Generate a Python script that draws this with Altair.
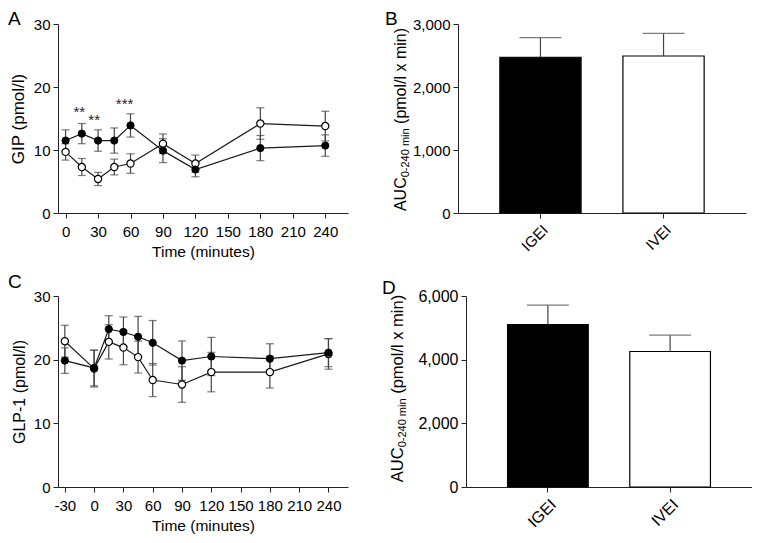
import altair as alt
import pandas as pd

FONT = "Liberation Sans"
LINE = "#1a1a1a"
ERR = "#444444"

# ---------------- Panel A: GIP ----------------
a_time = [0, 15, 30, 45, 60, 90, 120, 180, 240]
a_igei = [11.5, 12.6, 11.5, 11.5, 13.9, 9.9, 6.9, 10.3, 10.7]
a_igei_sem = [1.7, 1.6, 1.7, 2.0, 1.85, 1.9, 1.15, 2.0, 1.7]
a_ivei = [9.7, 7.3, 5.4, 7.3, 7.85, 11.0, 7.85, 14.2, 13.8]
a_ivei_sem = [1.3, 1.35, 1.05, 1.25, 1.55, 1.55, 1.35, 2.5, 2.35]
a_star_time = [12.7, 26.4, 54.5]
a_star_value = [16.7, 15.4, 17.9]
a_star_text = ["**", "**", "***"]
a_xticks = [0, 30, 60, 90, 120, 150, 180, 210, 240]

# ---------------- Panel C: GLP-1 ----------------
c_time = [-30, 0, 15, 30, 45, 60, 90, 120, 180, 240]
c_igei = [19.85, 18.7, 24.8, 24.35, 23.6, 22.65, 19.85, 20.5, 20.15, 21.1]
c_igei_sem = [2.0, 2.8, 2.1, 2.35, 3.2, 3.5, 3.1, 3.0, 2.35, 2.2]
c_ivei = [22.9, 18.6, 22.8, 21.9, 20.4, 16.8, 16.1, 18.05, 18.05, 20.9]
c_ivei_sem = [2.5, 2.9, 2.7, 2.7, 2.5, 2.6, 2.8, 3.1, 2.5, 2.4]
c_xticks = [-30, 0, 30, 60, 90, 120, 150, 180, 210, 240]

# ---------------- Panels B / D: AUC ----------------
groups = ["IGEI", "IVEI"]
b_auc = [2472, 2492]
b_sem = [313, 359]
d_auc = [5098, 4256]
d_sem = [615, 513]


def letter_layer(letter, lx, ly):
    return alt.Chart(pd.DataFrame({"t": [letter]})).mark_text(
        align="left", baseline="alphabetic", fontSize=19, font=FONT, color="black"
    ).encode(text="t:N", x=alt.value(lx), y=alt.value(ly))


def time_panel(times, igei, igei_sem, ivei, ivei_sem, xdomain, xticks, ytitle, ytitle_size,
               letter, ly, width, height, stars=None):
    rows = []
    for t, v, s in zip(times, igei, igei_sem):
        rows.append({"time": t, "value": v, "lo": v - s, "hi": v + s, "group": "IGEI"})
    for t, v, s in zip(times, ivei, ivei_sem):
        rows.append({"time": t, "value": v, "lo": v - s, "hi": v + s, "group": "IVEI"})
    df = pd.DataFrame(rows)
    xs = alt.Scale(domain=xdomain, nice=False, zero=False)
    ys = alt.Scale(domain=[0, 30], nice=False, zero=False)
    xaxis = alt.Axis(values=xticks, title="Time (minutes)", labelFlush=False,
                     labelOverlap=False, labelPadding=6, titlePadding=5,
                     titleFontSize=15.5, labelExpr="'' + datum.value")
    yaxis = alt.Axis(values=[0, 10, 20, 30], title=ytitle, labelPadding=3,
                     titlePadding=6, format="d", labelOverlap=False,
                     titleFontSize=ytitle_size)

    def X(f="time"):
        return alt.X(f + ":Q", scale=xs, axis=xaxis)

    def Y(f):
        return alt.Y(f + ":Q", scale=ys, axis=yaxis)

    base = alt.Chart(df)
    line = base.mark_line(color=LINE, strokeWidth=1.2).encode(
        x=X(), y=Y("value"), detail="group:N")
    err = base.mark_rule(color=ERR, strokeWidth=1.2).encode(x=X(), y=Y("lo"), y2="hi:Q")
    cap_lo = base.mark_tick(color=ERR, orient="horizontal", size=8, thickness=1.2).encode(
        x=X(), y=Y("lo"))
    cap_hi = base.mark_tick(color=ERR, orient="horizontal", size=8, thickness=1.2).encode(
        x=X(), y=Y("hi"))
    open_pts = base.transform_filter(alt.datum.group == "IVEI").mark_point(
        shape="circle", filled=True, fill="white", stroke="black", strokeWidth=1.2,
        size=52, opacity=1).encode(x=X(), y=Y("value"))
    filled_pts = base.transform_filter(alt.datum.group == "IGEI").mark_point(
        shape="circle", filled=True, fill="black", stroke="black", strokeWidth=1,
        size=52, opacity=1).encode(x=X(), y=Y("value"))
    layers = [line, err, cap_lo, cap_hi, open_pts, filled_pts]
    if stars is not None:
        sdf = pd.DataFrame({"time": stars[0], "value": stars[1], "txt": stars[2]})
        layers.append(alt.Chart(sdf).mark_text(
            fontSize=15, font=FONT, color="#222", baseline="middle", dy=4).encode(
            x=X(), y=Y("value"), text="txt:N"))
    layers.append(letter_layer(letter, -50, ly))
    return alt.layer(*layers).properties(width=width, height=height)


def bar_panel(auc, sem, ymax, yticks, letter, letter_x, letter_y, title_x, title_mid,
              main_fs, sub_fs, label_fs, width, height):
    df = pd.DataFrame({"group": groups, "auc": auc,
                       "hi": [a + s for a, s in zip(auc, sem)]})
    xsc = alt.Scale(paddingInner=0.34, paddingOuter=0.34)
    xaxis = alt.Axis(title=None, labelAngle=-45, labelPadding=4, labelFontSize=label_fs)
    ysc = alt.Scale(domain=[0, ymax], nice=False)
    yaxis = alt.Axis(values=yticks, format=",d", title=None, labelPadding=3,
                     labelFontSize=label_fs)

    def X():
        return alt.X("group:N", sort=groups, scale=xsc, axis=xaxis)

    def Y(f):
        return alt.Y(f + ":Q", scale=ysc, axis=yaxis)

    base = alt.Chart(df)
    err = base.mark_rule(color=ERR, strokeWidth=1.2).encode(x=X(), y=Y("auc"), y2="hi:Q")
    cap = base.mark_tick(color=ERR, orient="horizontal", size=42, thickness=1.2).encode(
        x=X(), y=Y("hi"))
    bars = base.mark_bar(stroke="black", strokeWidth=1.2).encode(
        x=X(), y=Y("auc"),
        fill=alt.Fill("group:N", scale=alt.Scale(domain=groups, range=["black", "white"]),
                      legend=None))
    w_auc = 2.111 * main_fs
    w_sub = 4.446 * sub_fs
    w_sp = 0.278 * main_fs
    w_rest = 6.0 * main_fs
    total = w_auc + w_sub + w_sp + w_rest
    start = title_mid + total / 2
    pieces = [("AUC", main_fs, 0, start),
              ("0-240 min", sub_fs, 2.5, start - w_auc),
              ("(pmol/l x min)", main_fs, 0, start - w_auc - w_sub - w_sp)]
    tlayers = []
    for txt, fs, off, yy in pieces:
        tlayers.append(alt.Chart(pd.DataFrame({"t": [txt]})).mark_text(
            angle=270, align="left", baseline="alphabetic", fontSize=fs, font=FONT,
            color="black").encode(text="t:N", x=alt.value(title_x + off), y=alt.value(yy)))
    return alt.layer(bars, err, cap, *tlayers,
                     letter_layer(letter, letter_x, letter_y)).properties(
        width=width, height=height)


A = time_panel(a_time, a_igei, a_igei_sem, a_ivei, a_ivei_sem, [-7, 261], a_xticks,
               "GIP (pmol/l)", 17, "A", 1, 290, 189,
               stars=(a_star_time, a_star_value, a_star_text))
C = time_panel(c_time, c_igei, c_igei_sem, c_ivei, c_ivei_sem, [-37, 260], c_xticks,
               "GLP-1 (pmol/l)", 16, "C", -8, 290, 191)
B = bar_panel(b_auc, b_sem, 3000, [0, 1000, 2000, 3000], "B", -73, 1, -52,
              189 / 2 + 1, 16, 11, 15, 288, 189)
D = bar_panel(d_auc, d_sem, 6000, [0, 2000, 4000, 6000], "D", -84, -2, -63,
              191 / 2 - 3, 16.5, 11, 16, 286, 191)

top = alt.hconcat(A, B, spacing=37)
bottom = alt.hconcat(C, D, spacing=34)

chart = alt.vconcat(top, bottom, spacing=13).properties(
    padding={"left": 0, "top": 2, "right": 0, "bottom": 0}
).configure_view(
    stroke=None
).configure_axis(
    domainColor="#222", tickColor="#222", labelColor="black", titleColor="black",
    labelFont=FONT, titleFont=FONT, labelFontSize=15, titleFontSize=16,
    titleFontWeight="normal", grid=False, tickSize=5, domainWidth=1, tickWidth=1,
    labelOverlap=False
)

chart.save("out.html", embed_options={"renderer": "svg", "actions": False})
